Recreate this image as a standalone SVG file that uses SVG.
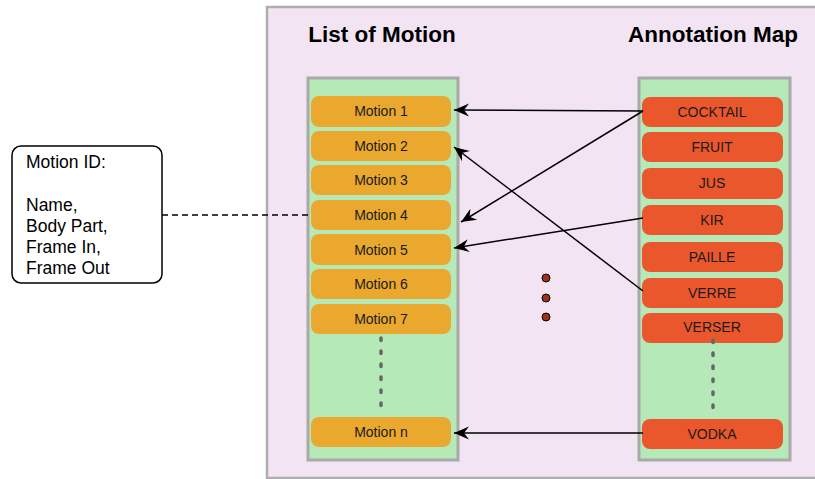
<svg xmlns="http://www.w3.org/2000/svg" width="815" height="479" viewBox="0 0 815 479">
<style>
.panel{fill:#f2e4f3;stroke:#aeaeae;stroke-width:2.5}
.col{fill:#b6e9b8;stroke:#a9a9a9;stroke-width:3}
.mot{fill:#eba82e}
.ann{fill:#ea572c}
.lbl{font-family:"Liberation Sans",Arial,sans-serif;font-size:14px;fill:#1a1a1a;text-anchor:middle}
.title{font-family:"Liberation Sans",Arial,sans-serif;font-size:22.5px;font-weight:bold;fill:#000;text-anchor:middle}
.note{font-family:"Liberation Sans",Arial,sans-serif;font-size:17.5px;fill:#000}
.conn{stroke:#000;stroke-width:1.5;fill:none}
.dots{stroke:#666;stroke-width:3.5;stroke-linecap:round;stroke-dasharray:2.5 10.5;fill:none}
</style>
<defs>
<marker id="ah" markerUnits="userSpaceOnUse" markerWidth="20" markerHeight="16" viewBox="-16 -8 20 16" refX="0" refY="0" orient="auto">
<path d="M0,0 L-15,-6.5 L-10,0 L-15,6.5 Z" fill="#000"/>
</marker>
</defs>
<rect class="panel" x="267" y="7" width="600" height="471"/>
<text class="title" x="382" y="42">List of Motion</text>
<text class="title" x="713" y="42">Annotation Map</text>

<g id="list-of-motion">
<rect class="col" x="308" y="78" width="150" height="382"/>
<g id="motion1"><rect class="mot" x="311" y="96" width="140" height="31" rx="8"/><text class="lbl" x="381" y="116">Motion 1</text></g>
<g id="motion2"><rect class="mot" x="311" y="131" width="140" height="30" rx="8"/><text class="lbl" x="381" y="151">Motion 2</text></g>
<g id="motion3"><rect class="mot" x="311" y="165" width="140" height="30" rx="8"/><text class="lbl" x="381" y="185">Motion 3</text></g>
<g id="motion4"><rect class="mot" x="311" y="200" width="140" height="30" rx="8"/><text class="lbl" x="381" y="220">Motion 4</text></g>
<g id="motion5"><rect class="mot" x="311" y="234" width="140" height="31" rx="8"/><text class="lbl" x="381" y="255">Motion 5</text></g>
<g id="motion6"><rect class="mot" x="311" y="269" width="140" height="30" rx="8"/><text class="lbl" x="381" y="289">Motion 6</text></g>
<g id="motion7"><rect class="mot" x="311" y="304" width="140" height="30" rx="8"/><text class="lbl" x="381" y="324">Motion 7</text></g>
<line class="dots" x1="381" y1="338" x2="381" y2="406"/>
<g id="motionn"><rect class="mot" x="311" y="417" width="140" height="30" rx="8"/><text class="lbl" x="381" y="437">Motion n</text></g>
</g>

<g id="annotation-map">
<rect class="col" x="639" y="78" width="151" height="382"/>
<g id="cocktail"><rect class="ann" x="642" y="97" width="141" height="30" rx="8"/><text class="lbl" x="712" y="117">COCKTAIL</text></g>
<g id="fruit"><rect class="ann" x="642" y="132" width="141" height="30" rx="8"/><text class="lbl" x="712" y="152">FRUIT</text></g>
<g id="jus"><rect class="ann" x="642" y="168" width="141" height="31" rx="8"/><text class="lbl" x="712" y="188">JUS</text></g>
<g id="kir"><rect class="ann" x="642" y="205" width="141" height="30" rx="8"/><text class="lbl" x="712" y="225">KIR</text></g>
<g id="paille"><rect class="ann" x="642" y="242" width="141" height="30" rx="8"/><text class="lbl" x="712" y="262">PAILLE</text></g>
<g id="verre"><rect class="ann" x="642" y="278" width="141" height="30" rx="8"/><text class="lbl" x="712" y="298">VERRE</text></g>
<g id="verser"><rect class="ann" x="642" y="313" width="141" height="30" rx="8"/><text class="lbl" x="712" y="332">VERSER</text></g>
<line class="dots" x1="713" y1="340" x2="713" y2="410"/>
<g id="vodka"><rect class="ann" x="642" y="419" width="141" height="30" rx="8"/><text class="lbl" x="712" y="439">VODKA</text></g>
</g>

<g id="ellipsis">
<circle cx="546" cy="278" r="4" fill="#a0301c" stroke="#000" stroke-width="1"/>
<circle cx="546" cy="298" r="4" fill="#a0301c" stroke="#000" stroke-width="1"/>
<circle cx="546" cy="317" r="4" fill="#a0301c" stroke="#000" stroke-width="1"/>
</g>

<g id="motion-id-note">
<rect x="12" y="146" width="150" height="137" rx="9" fill="#fff" stroke="#000" stroke-width="1.5"/>
<text class="note" x="26" y="168">Motion ID:</text>
<text class="note" x="26" y="211">Name,</text>
<text class="note" x="26" y="232">Body Part,</text>
<text class="note" x="26" y="253">Frame In,</text>
<text class="note" x="26" y="274">Frame Out</text>
</g>

<g id="connectors">
<line x1="162" y1="215" x2="311" y2="215" stroke="#000" stroke-width="1.5" stroke-dasharray="6 4"/>
<line class="conn" x1="643" y1="111" x2="454" y2="110" marker-end="url(#ah)"/>
<line class="conn" x1="643" y1="111" x2="461" y2="222" marker-end="url(#ah)"/>
<line class="conn" x1="643" y1="291" x2="454" y2="147" marker-end="url(#ah)"/>
<line class="conn" x1="643" y1="218" x2="454" y2="248" marker-end="url(#ah)"/>
<line class="conn" x1="643" y1="433" x2="454" y2="433" marker-end="url(#ah)"/>
</g>
</svg>
